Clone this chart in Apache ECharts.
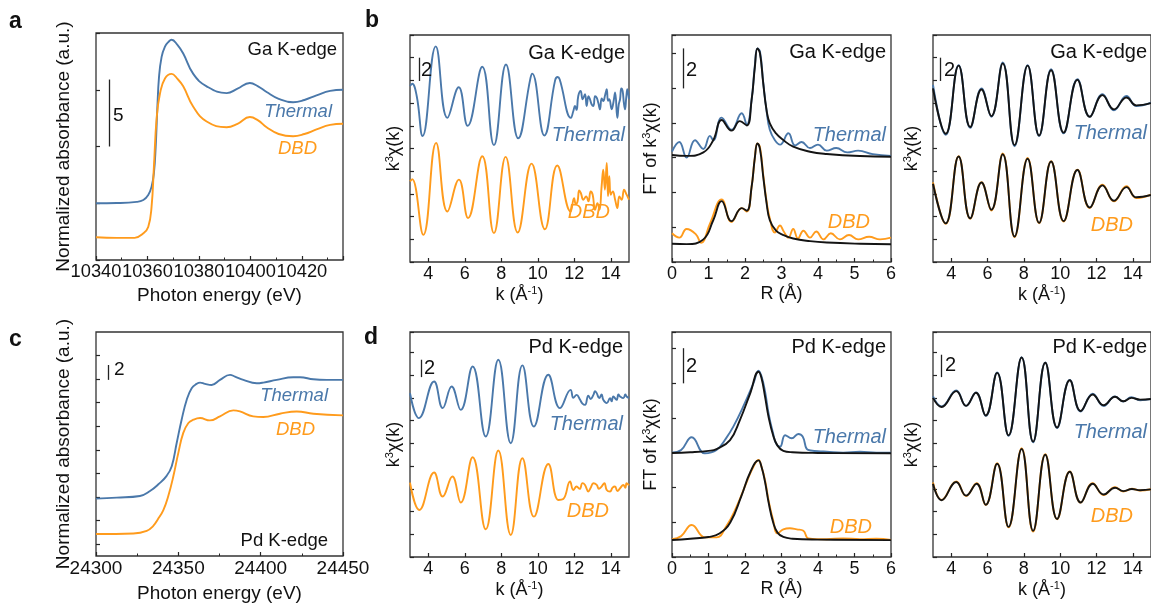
<!DOCTYPE html>
<html><head><meta charset="utf-8">
<script src="https://cdn.jsdelivr.net/npm/echarts@6/dist/echarts.min.js"></script>
<style>html,body{margin:0;padding:0;background:#fff}#c{width:1151px;height:604px}</style>
</head><body><div id="c"></div>
<script>
// ---------- DATA ----------
// a: Ga K-edge XANES  [photon energy eV, normalized absorbance (offset)]
const gaXanesThermal = [[10340,5.0],[10348,5.02],[10355.8,5.12],[10358.4,5.29],[10360.3,5.73],[10361.6,6.46],[10362.5,7.64],[10363.2,9.98],[10363.8,13.2],[10364.5,16.15],[10365.5,17.9],[10366.8,18.8],[10368.1,19.2],[10369.4,19.4],[10371.5,19.0],[10373.9,18.2],[10377.8,16.4],[10383,15.3],[10390.8,14.7],[10395,15.1],[10399.8,15.6],[10403,15.3],[10406.3,14.8],[10411,14.2],[10416.6,13.9],[10421,14.1],[10425.7,14.5],[10431,14.9],[10436,15.0]];
const gaXanesDBD = [[10340,2.0],[10348,1.95],[10355,1.95],[10358.4,2.35],[10360.3,2.9],[10361.6,4.7],[10362.5,8.2],[10363.6,12.6],[10364.9,14.7],[10366.8,16.0],[10369.4,16.4],[10371.5,16.0],[10373.9,15.3],[10377.8,13.5],[10383,12.2],[10390.8,11.7],[10395,12.0],[10399.8,12.6],[10403,12.3],[10406.3,11.7],[10411,11.1],[10416.6,10.9],[10421,11.1],[10425.7,11.5],[10431,11.9],[10436,12.0]];
// b (left): Ga k^3 chi(k)  [k, value]
const gaKThermal = [[3.0,15.5],[3.12,15.7],[3.37,14.6],[3.69,11.1],[4.41,19.0],[5.05,12.7],[5.67,15.4],[6.16,12.0],[6.96,17.2],[7.6,10.3],[8.26,17.4],[8.93,10.9],[9.6,16.2],[9.7,16.6],[10.36,11.15],[10.95,16.0],[11.09,16.3],[11.2,16.1],[11.82,12.7],[11.95,13.3],[12.04,13.75],[12.13,13.4],[12.22,14.63],[12.35,15.07],[12.46,14.34],[12.59,14.78],[12.68,13.75],[12.78,14.6],[12.86,14.34],[12.95,13.9],[13.05,13.75],[13.14,14.6],[13.23,14.48],[13.32,14.0],[13.41,13.45],[13.5,14.4],[13.59,14.19],[13.69,14.7],[13.78,15.22],[13.85,14.2],[13.92,14.34],[14.05,13.45],[14.15,14.1],[14.24,14.93],[14.36,12.71],[14.44,13.9],[14.51,14.34],[14.58,15.3],[14.65,15.07],[14.72,14.0],[14.78,13.45],[14.85,14.5],[14.91,15.22],[15.0,14.34]];
const gaKDBD = [[3.0,7.1],[3.12,7.3],[3.73,2.39],[4.43,10.5],[5.05,4.45],[5.68,7.26],[6.18,3.87],[6.96,9.32],[7.6,2.54],[8.24,9.26],[8.9,2.6],[9.66,8.67],[10.39,2.89],[11.07,8.5],[11.8,4.45],[11.99,5.63],[12.08,5.1],[12.18,5.34],[12.27,6.3],[12.36,6.08],[12.5,5.49],[12.65,5.78],[12.78,5.34],[12.9,6.22],[13.01,5.93],[13.14,4.6],[13.27,5.19],[13.38,4.6],[13.5,6.66],[13.59,8.14],[13.68,6.37],[13.78,8.73],[13.85,5.8],[13.92,7.55],[14.0,5.93],[14.11,6.22],[14.24,5.49],[14.36,4.75],[14.47,5.78],[14.6,5.49],[14.73,6.37],[14.87,5.93],[15.0,5.49]];
// b (middle): Ga FT of k^3 chi(k)  [R, value]
const gaRThermal = [[0,6.35],[0.2,6.9],[0.4,6.0],[0.63,7.0],[0.86,6.5],[1.04,7.25],[1.13,7.0],[1.36,8.3],[1.63,7.6],[1.91,8.55],[2.05,7.9],[2.18,9.3],[2.27,11.3],[2.34,12.28],[2.41,12.1],[2.5,10.3],[2.59,8.7],[2.68,7.6],[2.82,7.0],[2.96,6.75],[3.19,7.4],[3.37,6.7],[3.55,6.9],[3.78,6.55],[4.0,6.75],[4.24,6.4],[4.5,6.55],[4.8,6.3],[5.1,6.4],[5.5,6.2],[6.0,6.1]];
const gaRThermalFit = [[0,6.15],[0.4,6.1],[0.86,6.3],[1.13,7.0],[1.36,8.16],[1.63,7.55],[1.86,8.1],[2.05,7.85],[2.18,9.3],[2.27,11.2],[2.34,12.28],[2.41,12.0],[2.5,10.27],[2.59,8.74],[2.68,7.97],[2.85,7.39],[3.05,7.01],[3.32,6.63],[3.78,6.34],[4.24,6.21],[5.15,6.09],[6,6.05]];
const gaRDBD = [[0,1.65],[0.2,1.4],[0.4,1.9],[0.65,1.6],[0.8,1.1],[1.04,2.2],[1.36,3.6],[1.63,2.3],[1.91,3.1],[2.05,2.9],[2.18,4.3],[2.27,6.0],[2.34,6.82],[2.41,6.6],[2.5,5.0],[2.59,3.5],[2.68,2.5],[2.82,1.7],[2.96,2.1],[3.05,1.8],[3.19,1.4],[3.32,1.9],[3.45,1.35],[3.6,1.8],[3.78,1.4],[3.95,1.75],[4.15,1.3],[4.35,1.65],[4.6,1.3],[4.85,1.55],[5.1,1.3],[5.4,1.45],[5.7,1.3],[6,1.4]];
const gaRDBDFit = [[0,1.05],[0.4,1.03],[0.86,1.3],[1.13,2.4],[1.36,3.5],[1.63,2.35],[1.91,3.1],[2.05,2.95],[2.18,4.3],[2.27,6.0],[2.34,6.82],[2.41,6.5],[2.5,4.9],[2.59,3.4],[2.68,2.4],[2.85,1.8],[3.05,1.55],[3.32,1.35],[3.78,1.2],[4.24,1.12],[5.15,1.05],[6,1.02]];
// b (right): Ga k^3 chi(k) with fits
const gaKfThermal = [[3,15.6],[3.7,11.2],[4.41,17.35],[5.05,11.83],[5.67,15.28],[6.21,12.8],[6.84,17.58],[7.49,10.2],[8.21,17.35],[8.84,11.09],[9.5,16.99],[10.19,11.33],[10.95,16.1],[11.63,12.8],[12.33,14.78],[12.96,13.36],[13.65,14.63],[14.19,13.75],[15,14.04]];
const gaKfThermalFit = [[3,15.3],[3.7,11.3],[4.41,17.3],[5.05,11.9],[5.67,15.2],[6.21,12.85],[6.84,17.5],[7.49,10.3],[8.21,17.3],[8.84,11.15],[9.5,16.9],[10.19,11.4],[10.95,16.05],[11.63,12.8],[12.33,14.7],[12.96,13.45],[13.65,14.5],[14.19,13.8],[15,14.0]];
const gaKfDBD = [[3,7.02],[3.7,3.36],[4.41,9.32],[5.05,3.81],[5.67,7.02],[6.21,4.54],[6.84,9.56],[7.49,2.18],[8.21,9.17],[8.84,3.42],[9.5,8.88],[10.19,3.57],[10.95,8.14],[11.63,4.75],[12.33,6.81],[12.96,5.34],[13.65,6.67],[14.19,5.63],[15,5.93]];
const gaKfDBDFit = [[3,6.9],[3.7,3.4],[4.41,9.3],[5.05,3.85],[5.67,7.0],[6.21,4.6],[6.84,9.5],[7.49,2.25],[8.21,9.1],[8.84,3.45],[9.5,8.85],[10.19,3.6],[10.95,8.1],[11.63,4.8],[12.33,6.75],[12.96,5.4],[13.65,6.6],[14.19,5.7],[15,5.9]];
// c: Pd K-edge XANES
const pdXanesThermal = [[24300,4.87],[24312.6,4.95],[24326.7,5.09],[24332.8,5.51],[24337.9,6.08],[24342.9,6.8],[24346,7.62],[24349,9.59],[24352,11.56],[24355.1,13.25],[24358.1,14.23],[24361.1,14.6],[24363.2,14.71],[24366.2,14.6],[24370.2,14.51],[24375.3,14.94],[24381.4,15.36],[24384.4,15.22],[24389.5,14.94],[24397.6,14.65],[24401.6,14.71],[24409.7,14.94],[24419.8,15.16],[24423.9,15.16],[24432,14.99],[24440.1,14.94],[24450,14.94]];
const pdXanesDBD = [[24300,1.86],[24322.7,1.91],[24330.8,2.14],[24334.8,2.56],[24337.5,3.1],[24340.9,3.9],[24343.9,5.09],[24347,6.78],[24350,8.75],[24353,10.44],[24356.1,11.28],[24359.1,11.56],[24363.2,11.7],[24369.2,11.5],[24375.3,11.84],[24383.4,12.35],[24387.4,12.26],[24395.5,11.84],[24401.6,11.79],[24411.7,12.07],[24421.9,12.26],[24432,12.07],[24450,11.93]];
// d (left): Pd k^3 chi(k)
const pdKThermal = [[3,14.42],[3.49,12.22],[4.32,15.45],[4.79,13.1],[5.28,15.01],[5.78,12.95],[6.43,16.77],[7.15,10.6],[7.84,17.36],[8.52,10.01],[9.16,16.86],[9.79,11.48],[10.58,16.04],[11.22,13.1],[11.8,14.71],[11.95,14.0],[12.13,14.27],[12.32,13.83],[12.45,13.5],[12.59,13.39],[12.77,14.2],[12.9,13.9],[13.05,14.27],[13.14,14.6],[13.23,14.42],[13.37,13.98],[13.5,14.3],[13.59,13.83],[13.78,13.54],[13.96,13.98],[14.05,13.7],[14.14,14.13],[14.32,13.83],[14.42,14.3],[14.51,14.13],[14.69,13.98],[14.8,14.3],[14.87,14.13],[15,14.0]];
const pdKDBD = [[3,6.55],[3.51,4.14],[4.32,7.43],[4.79,5.32],[5.32,7.08],[5.78,4.79],[6.43,8.78],[7.15,2.44],[7.84,9.37],[8.52,1.94],[9.16,8.69],[9.79,3.55],[10.58,8.19],[11.13,5.02],[11.4,5.1],[11.77,6.64],[11.95,5.9],[12.13,6.2],[12.3,6.0],[12.45,6.5],[12.59,6.34],[12.77,5.76],[12.9,6.1],[13.05,6.49],[13.23,6.34],[13.35,6.0],[13.5,6.2],[13.65,6.5],[13.78,5.9],[13.96,5.76],[14.1,6.1],[14.23,6.2],[14.37,5.8],[14.51,6.05],[14.69,6.34],[14.8,6.1],[14.87,6.49],[15,6.3]];
// d (middle): Pd FT of k^3 chi(k)
const pdRThermal = [[0,6.0],[0.25,6.15],[0.54,6.88],[0.9,5.96],[1.22,6.15],[1.48,6.82],[1.68,7.49],[1.95,8.64],[2.23,9.98],[2.37,10.71],[2.45,10.4],[2.55,9.5],[2.65,8.2],[2.77,7.11],[2.85,6.53],[2.96,6.34],[3.1,7.0],[3.28,6.82],[3.46,7.07],[3.58,6.92],[3.73,6.15],[4.0,6.08],[4.24,6.05],[4.69,6.0],[5.15,6.05],[5.6,6.0],[6,6.0]];
const pdRThermalFit = [[0,5.98],[0.5,6.02],[1.0,6.1],[1.22,6.2],[1.59,6.72],[1.86,7.87],[2.14,9.39],[2.37,10.65],[2.45,10.3],[2.55,9.2],[2.65,8.0],[2.77,7.0],[2.89,6.4],[3.05,6.1],[3.3,6.02],[4,5.98],[6,5.96]];
const pdRDBD = [[0,1.02],[0.25,1.2],[0.54,1.84],[0.9,1.13],[1.22,1.13],[1.48,1.74],[1.77,2.89],[2.05,4.33],[2.23,5.19],[2.37,5.57],[2.45,5.2],[2.55,4.4],[2.65,3.2],[2.77,2.13],[2.89,1.36],[3.05,1.59],[3.23,1.65],[3.42,1.59],[3.6,1.51],[3.74,1.07],[4.24,1.02],[4.69,1.07],[5.15,1.02],[5.6,1.05],[6,0.98]];
const pdRDBDFit = [[0,0.98],[0.5,1.05],[1.0,1.15],[1.3,1.35],[1.6,2.0],[1.9,3.5],[2.15,4.9],[2.37,5.55],[2.45,5.2],[2.55,4.3],[2.65,3.1],[2.77,2.0],[2.89,1.4],[3.05,1.15],[3.3,1.05],[4,1.0],[6,0.97]];
// d (right): Pd k^3 chi(k) with fits
const pdKfThermal = [[3,14.13],[3.47,13.25],[4.28,14.65],[4.82,13.3],[5.36,14.48],[5.9,12.42],[6.53,16.24],[7.16,10.66],[7.88,17.59],[8.51,10.1],[9.18,17.12],[9.83,11.34],[10.53,15.59],[11.13,12.8],[11.79,14.36],[12.39,13.3],[13.02,14.13],[13.47,13.69],[13.92,14.07],[14.4,13.8],[15,13.89]];
const pdKfThermalFit = [[3,14.0],[3.47,13.2],[4.28,14.6],[4.82,13.3],[5.36,14.45],[5.9,12.45],[6.53,16.2],[7.16,10.7],[7.88,17.55],[8.51,10.15],[9.18,17.1],[9.83,11.4],[10.53,15.55],[11.13,12.85],[11.79,14.3],[12.39,13.35],[13.02,14.1],[13.47,13.7],[13.92,14.0],[14.4,13.85],[15,13.9]];
const pdKfDBD = [[3,6.55],[3.47,5.02],[4.28,6.64],[4.82,5.37],[5.4,6.49],[5.9,4.58],[6.53,8.25],[7.16,2.61],[7.88,9.57],[8.51,2.23],[9.18,9.05],[9.83,3.32],[10.53,7.52],[11.13,4.79],[11.79,6.49],[12.39,5.46],[13.02,6.14],[13.47,5.76],[13.95,6.0],[14.4,5.85],[15,5.96]];
const pdKfDBDFit = [[3,6.45],[3.47,5.0],[4.28,6.6],[4.82,5.4],[5.4,6.45],[5.9,4.6],[6.53,8.2],[7.16,2.65],[7.88,9.5],[8.51,2.3],[9.18,9.0],[9.83,3.35],[10.53,7.5],[11.13,4.8],[11.79,6.45],[12.39,5.5],[13.02,6.1],[13.47,5.8],[13.95,5.98],[14.4,5.88],[15,5.95]];
// tick values
const kTicks = [4,6,8,10,12,14];
const pdXanesYTicks = [1,3,5,7,9,11,13,15,17];

// ---------- STYLE ----------
const FONT = '"Liberation Sans", Arial, Helvetica, sans-serif';
const BLUE = '#4a78aa', ORANGE = '#ff9b1c', BLACK = '#141414', INK = '#262626';

const chart = echarts.init(document.getElementById('c'), null, {renderer:'canvas'});

const panels = [
  {grid:[96,33,247,227], x:{min:10340,max:10436,interval:20,minor:true,showMax:false,lfs:18.3}, y:{min:0,max:20,interval:5}, fs:19, xName:'Photon energy (eV)', yName:'Normalized absorbance (a.u.)', xGap:26, yGap:23,
   series:[[gaXanesThermal,BLUE],[gaXanesDBD,ORANGE]], bar:[10345.2,10,15.9]},
  {grid:[410,35,219,227], x:{min:3,max:15,custom:kTicks}, y:{min:0,max:20,interval:2}, fs:18, xName:'{t|k (Å}{s|-1}{t|)}', yName:'{t|k}{s|3}{t|χ(k)}', xGap:23, yGap:6,
   series:[[gaKThermal,BLUE],[gaKDBD,ORANGE]], bar:[3.5,15.95,18.0]},
  {grid:[672,35,219,227], x:{min:0,max:6,interval:1,minor:true}, y:{min:0,max:13.05,interval:2}, fs:18, xName:'R (Å)', yName:'{t|FT of k}{s|3}{t|χ(k)}', xGap:23, yGap:11,
   series:[[gaRThermal,BLUE],[gaRDBD,ORANGE],[gaRThermalFit,BLACK],[gaRDBDFit,BLACK]], bar:[0.31,9.98,12.28]},
  {grid:[933,35,222,227], x:{min:3,max:15,custom:kTicks}, y:{min:0,max:20,interval:2}, fs:18, xName:'{t|k (Å}{s|-1}{t|)}', yName:'{t|k}{s|3}{t|χ(k)}', xGap:23, yGap:11,
   series:[[gaKfThermal,BLUE],[gaKfDBD,ORANGE],[gaKfThermalFit,BLACK],[gaKfDBDFit,BLACK]], bar:[3.38,15.95,18.0]},
  {grid:[96,332,247,225], x:{min:24300,max:24450,interval:50,minor:true}, y:{min:0,max:19,custom:pdXanesYTicks}, fs:19, xName:'Photon energy (eV)', yName:'Normalized absorbance (a.u.)', xGap:28, yGap:23,
   series:[[pdXanesThermal,BLUE],[pdXanesDBD,ORANGE]], bar:[24307.5,14.94,16.2]},
  {grid:[410,332,219,225], x:{min:3,max:15,custom:kTicks}, y:{min:0,max:19.8,interval:2}, fs:18, xName:'{t|k (Å}{s|-1}{t|)}', yName:'{t|k}{s|3}{t|χ(k)}', xGap:23, yGap:6,
   series:[[pdKThermal,BLUE],[pdKDBD,ORANGE]], bar:[3.59,15.83,17.36]},
  {grid:[672,332,219,225], x:{min:0,max:6,interval:1,minor:true}, y:{min:0,max:12.93,interval:2}, fs:18, xName:'R (Å)', yName:'{t|FT of k}{s|3}{t|χ(k)}', xGap:23, yGap:11,
   series:[[pdRThermal,BLUE],[pdRDBD,ORANGE],[pdRThermalFit,BLACK],[pdRDBDFit,BLACK]], bar:[0.31,9.98,12.0]},
  {grid:[933,332,222,225], x:{min:3,max:15,custom:kTicks}, y:{min:0,max:19.8,interval:2}, fs:18, xName:'{t|k (Å}{s|-1}{t|)}', yName:'{t|k}{s|3}{t|χ(k)}', xGap:23, yGap:11,
   series:[[pdKfThermal,BLUE],[pdKfDBD,ORANGE],[pdKfThermalFit,BLACK],[pdKfDBDFit,BLACK]], bar:[3.47,15.83,17.8]}
];

function rich(fs){
  return {
    t:{fontSize:fs, fontFamily:FONT, color:'#111', lineHeight:fs+2},
    s:{fontSize:Math.round(fs*0.62), fontFamily:FONT, color:'#111', verticalAlign:'top', lineHeight:Math.round(fs*0.62)}
  };
}

const grids=[], xAxes=[], yAxes=[], series=[];
panels.forEach((p,i)=>{
  grids.push({left:p.grid[0], top:p.grid[1], width:p.grid[2], height:p.grid[3], show:true, borderColor:'#333', borderWidth:1.3, containLabel:false});
  const xa = {gridIndex:i, type:'value', min:p.x.min, max:p.x.max,
    axisLine:{show:false}, splitLine:{show:false},
    axisTick:{show:true, inside:true, length:4, lineStyle:{color:INK,width:1.2}},
    minorTick:{show:!!p.x.minor, splitNumber:2, length:2.5, lineStyle:{color:INK,width:1}},
    axisLabel:{show:true, margin:3, color:'#111', fontSize:p.x.lfs||p.fs, fontFamily:FONT, showMinLabel:true, showMaxLabel:p.x.showMax!==false, hideOverlap:false,
      formatter:function(v){ return String(v); }},
    name:p.xName, nameLocation:'middle', nameGap:p.xGap,
    nameTextStyle:{fontSize:p.fs, fontFamily:FONT, color:'#111', rich:rich(p.fs)}};
  if(p.x.interval) xa.interval=p.x.interval;
  if(p.x.custom){ xa.axisTick.customValues=p.x.custom; xa.axisLabel.customValues=p.x.custom; }
  xAxes.push(xa);
  const ya = {gridIndex:i, type:'value', min:p.y.min, max:p.y.max,
    axisLine:{show:false}, splitLine:{show:false},
    axisTick:{show:true, inside:true, length:4, lineStyle:{color:INK,width:1.2}},
    axisLabel:{show:false},
    name:p.yName, nameLocation:'middle', nameGap:p.yGap,
    nameTextStyle:{fontSize:p.fs, fontFamily:FONT, color:'#111', rich:rich(p.fs)}};
  if(p.y.interval) ya.interval=p.y.interval;
  if(p.y.custom){ ya.axisTick.customValues=p.y.custom; }
  yAxes.push(ya);
  p.series.forEach((s,j)=>{
    const ser = {type:'line', xAxisIndex:i, yAxisIndex:i, data:s[0], showSymbol:false, symbol:'none',
      smooth:0.45, lineStyle:{color:s[1], width:1.9}, itemStyle:{color:s[1]}, silent:true, clip:true, z: s[1]===BLACK?4:3};
    if(j===0){
      ser.markLine = {symbol:['none','none'], silent:true, animation:false, label:{show:false},
        lineStyle:{color:'#222', width:1.3, type:'solid'},
        data:[[{coord:[p.bar[0],p.bar[1]]},{coord:[p.bar[0],p.bar[2]]}]]};
    }
    series.push(ser);
  });
});

function txt(x,y,text,font,fill,align){
  return {type:'text', x:x, y:y, silent:true, z:100,
    style:{text:text, font:font, fill:fill||'#111', align:align||'right', verticalAlign:'middle', textAlign:align||'right', textVerticalAlign:'middle'}};
}
const F20='20px '+FONT, I18='italic 18.5px '+FONT, I20='italic 20px '+FONT, B22='bold 23px '+FONT;
const graphics = [
  txt(9,22,'a',B22,'#111','left'), txt(365,21,'b',B22,'#111','left'), txt(9,340,'c',B22,'#111','left'), txt(364,338,'d',B22,'#111','left'),
  // panel a
  txt(337,50,'Ga K-edge','18.5px '+FONT), txt(332,112,'Thermal',I18,BLUE), txt(317,149,'DBD',I18,ORANGE),
  txt(113,116,'5','19px '+FONT,'#111','left'),
  // b1
  txt(625,53,'Ga K-edge',F20), txt(625,135,'Thermal',I20,BLUE), txt(610,212,'DBD',I20,ORANGE), txt(421,70,'2',F20,'#111','left'),
  // b2
  txt(886,52,'Ga K-edge',F20), txt(886,135,'Thermal',I20,BLUE), txt(870,222,'DBD',I20,ORANGE), txt(686,70,'2',F20,'#111','left'),
  // b3
  txt(1147,52,'Ga K-edge',F20), txt(1147,133,'Thermal',I20,BLUE), txt(1133,225,'DBD',I20,ORANGE), txt(944,70,'2',F20,'#111','left'),
  // c
  txt(328,541,'Pd K-edge','18.5px '+FONT), txt(328,396,'Thermal',I18,BLUE), txt(315,430,'DBD',I18,ORANGE), txt(114,370,'2','19px '+FONT,'#111','left'),
  // d1
  txt(623,347,'Pd K-edge',F20), txt(623,424,'Thermal',I20,BLUE), txt(609,511,'DBD',I20,ORANGE), txt(424,368,'2',F20,'#111','left'),
  // d2
  txt(886,347,'Pd K-edge',F20), txt(886,437,'Thermal',I20,BLUE), txt(872,527,'DBD',I20,ORANGE), txt(686,366,'2',F20,'#111','left'),
  // d3
  txt(1147,347,'Pd K-edge',F20), txt(1147,432,'Thermal',I20,BLUE), txt(1133,516,'DBD',I20,ORANGE), txt(945,365,'2',F20,'#111','left')
];

chart.setOption({
  animation:false, backgroundColor:'#ffffff',
  textStyle:{fontFamily:FONT},
  grid:grids, xAxis:xAxes, yAxis:yAxes, series:series, graphic:graphics
});
</script></body></html>
